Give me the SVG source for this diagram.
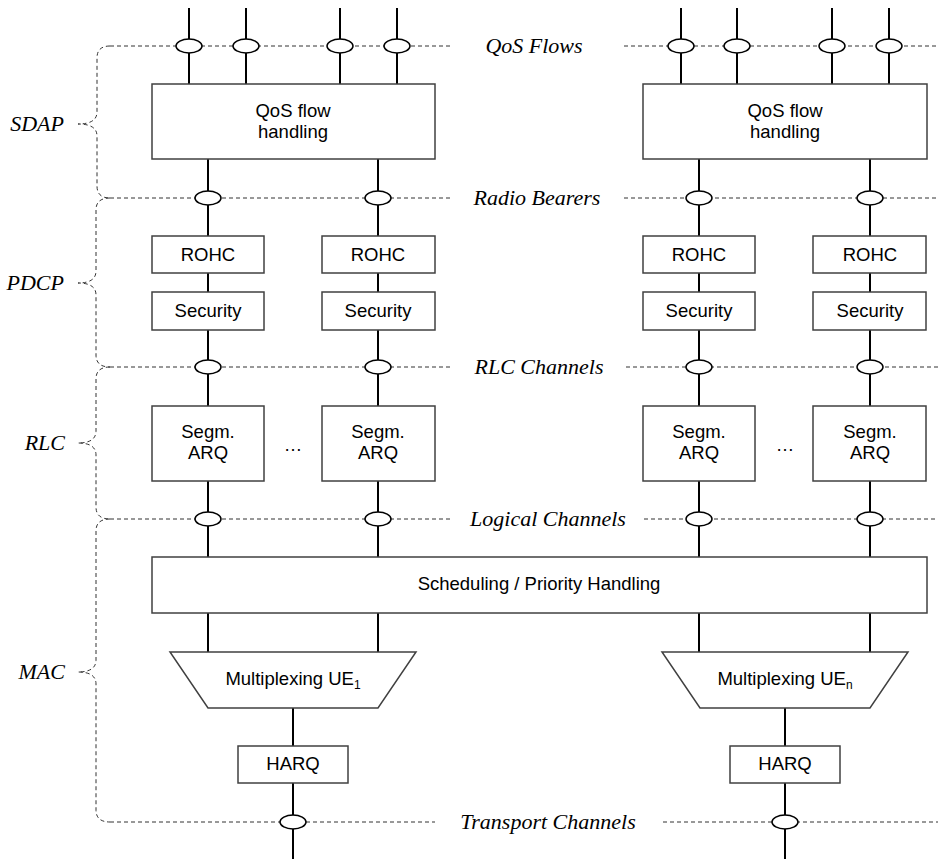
<svg xmlns="http://www.w3.org/2000/svg" width="938" height="859" viewBox="0 0 938 859">
<style>
.bg{fill:#fff}
.box{fill:#fff;stroke:#404040;stroke-width:1.5}
.v{stroke:#000;stroke-width:2;fill:none}
.d{stroke:#333;stroke-width:1;stroke-dasharray:4,3;fill:none}
.el{fill:#fff;stroke:#000;stroke-width:1.5}
.t{font-family:"Liberation Sans",Arial,sans-serif;font-size:18.5px;fill:#000;text-anchor:middle}
.lab{font-family:"Liberation Serif","Times New Roman",serif;font-style:italic;font-size:22px;fill:#000;text-anchor:middle}
.ll{font-family:"Liberation Serif","Times New Roman",serif;font-style:italic;font-size:22px;fill:#000;text-anchor:end}
</style>
<rect class="bg" x="0" y="0" width="938" height="859"/>
<g id="connectors">
  <path class="d" d="M110,46H453M624,46H938"/>
  <path class="d" d="M110,198H453M624,198H938"/>
  <path class="d" d="M110,367H453M626,367H938"/>
  <path class="d" d="M110,519H453M644,519H938"/>
  <path class="d" d="M110,822H435M663,822H938"/>
  <path class="d" d="M110,46Q97,46 97,58L97,112Q97,124 78,124Q97,124 97,136L97,186Q97,198 110,198"/>
  <path class="d" d="M110,198Q96,198 96,210L96,271Q96,283 78,283Q96,283 96,295L96,355Q96,367 110,367"/>
  <path class="d" d="M110,367Q96,367 96,379L96,431Q96,443 78,443Q96,443 96,455L96,507Q96,519 110,519"/>
  <path class="d" d="M110,519Q96,519 96,531L96,660Q96,672 78,672Q96,672 96,684L96,810Q96,822 110,822"/>
  <path class="v" d="M189,8V84M246,8V84M340,8V84M397,8V84"/>
  <path class="v" d="M681,8V84M737,8V84M832,8V84M889,8V84"/>
  <path class="v" d="M208,159V236M208,273V292M208,330V406M208,481V557M208,613V652"/>
  <path class="v" d="M378,159V236M378,273V292M378,330V406M378,481V557M378,613V652"/>
  <path class="v" d="M699,159V236M699,273V292M699,330V406M699,481V557M699,613V652"/>
  <path class="v" d="M870,159V236M870,273V292M870,330V406M870,481V557M870,613V652"/>
  <path class="v" d="M293,708V746M293,783V859"/>
  <path class="v" d="M785,708V746M785,783V859"/>
  <g>
    <ellipse class="el" cx="189" cy="46" rx="13" ry="7"/>
    <ellipse class="el" cx="246" cy="46" rx="13" ry="7"/>
    <ellipse class="el" cx="340" cy="46" rx="13" ry="7"/>
    <ellipse class="el" cx="397" cy="46" rx="13" ry="7"/>
    <ellipse class="el" cx="681" cy="46" rx="13" ry="7"/>
    <ellipse class="el" cx="737" cy="46" rx="13" ry="7"/>
    <ellipse class="el" cx="832" cy="46" rx="13" ry="7"/>
    <ellipse class="el" cx="889" cy="46" rx="13" ry="7"/>
    <ellipse class="el" cx="208" cy="198" rx="13" ry="7"/>
    <ellipse class="el" cx="378" cy="198" rx="13" ry="7"/>
    <ellipse class="el" cx="699" cy="198" rx="13" ry="7"/>
    <ellipse class="el" cx="870" cy="198" rx="13" ry="7"/>
    <ellipse class="el" cx="208" cy="367" rx="13" ry="7"/>
    <ellipse class="el" cx="378" cy="367" rx="13" ry="7"/>
    <ellipse class="el" cx="699" cy="367" rx="13" ry="7"/>
    <ellipse class="el" cx="870" cy="367" rx="13" ry="7"/>
    <ellipse class="el" cx="208" cy="519" rx="13" ry="7"/>
    <ellipse class="el" cx="378" cy="519" rx="13" ry="7"/>
    <ellipse class="el" cx="699" cy="519" rx="13" ry="7"/>
    <ellipse class="el" cx="870" cy="519" rx="13" ry="7"/>
    <ellipse class="el" cx="293" cy="822" rx="13" ry="7"/>
    <ellipse class="el" cx="785" cy="822" rx="13" ry="7"/>
  </g>
</g>
<g id="labels">
  <text class="lab" x="534" y="53">QoS Flows</text>
  <text class="lab" x="537" y="205">Radio Bearers</text>
  <text class="lab" x="539" y="374">RLC Channels</text>
  <text class="lab" x="548" y="526">Logical Channels</text>
  <text class="lab" x="548" y="829">Transport Channels</text>
  <text class="ll" x="64" y="131">SDAP</text>
  <text class="ll" x="64" y="290">PDCP</text>
  <text class="ll" x="65" y="450">RLC</text>
  <text class="ll" x="65" y="679">MAC</text>
</g>
<g id="qos1"><rect class="box" x="152" y="84" width="283" height="75"/><text class="t" x="293" y="117">QoS flow</text><text class="t" x="293" y="138">handling</text></g>
<g id="qos2"><rect class="box" x="643" y="84" width="284" height="75"/><text class="t" x="785" y="117">QoS flow</text><text class="t" x="785" y="138">handling</text></g>
<g id="rohc1"><rect class="box" x="152" y="236" width="112" height="37"/><text class="t" x="208" y="261">ROHC</text></g>
<g id="rohc2"><rect class="box" x="322" y="236" width="113" height="37"/><text class="t" x="378" y="261">ROHC</text></g>
<g id="rohc3"><rect class="box" x="643" y="236" width="112" height="37"/><text class="t" x="699" y="261">ROHC</text></g>
<g id="rohc4"><rect class="box" x="813" y="236" width="113" height="37"/><text class="t" x="870" y="261">ROHC</text></g>
<g id="sec1"><rect class="box" x="152" y="292" width="112" height="38"/><text class="t" x="208" y="317">Security</text></g>
<g id="sec2"><rect class="box" x="322" y="292" width="113" height="38"/><text class="t" x="378" y="317">Security</text></g>
<g id="sec3"><rect class="box" x="643" y="292" width="112" height="38"/><text class="t" x="699" y="317">Security</text></g>
<g id="sec4"><rect class="box" x="813" y="292" width="113" height="38"/><text class="t" x="870" y="317">Security</text></g>
<g id="rlc1"><rect class="box" x="152" y="406" width="112" height="75"/><text class="t" x="208" y="438">Segm.</text><text class="t" x="208" y="459">ARQ</text></g>
<g id="rlc2"><rect class="box" x="322" y="406" width="113" height="75"/><text class="t" x="378" y="438">Segm.</text><text class="t" x="378" y="459">ARQ</text></g>
<g id="rlc3"><rect class="box" x="643" y="406" width="112" height="75"/><text class="t" x="699" y="438">Segm.</text><text class="t" x="699" y="459">ARQ</text></g>
<g id="rlc4"><rect class="box" x="813" y="406" width="113" height="75"/><text class="t" x="870" y="438">Segm.</text><text class="t" x="870" y="459">ARQ</text></g>
<g id="dots1"><text class="t" x="293" y="451">…</text></g>
<g id="dots2"><text class="t" x="785" y="451">…</text></g>
<g id="sched"><rect class="box" x="152" y="557" width="775" height="56"/><text class="t" x="539" y="590">Scheduling / Priority Handling</text></g>
<g id="mux1"><path class="box" d="M170,652H416L378,708H208Z"/><text class="t" x="293" y="685">Multiplexing UE<tspan font-size="12" dy="4">1</tspan></text></g>
<g id="mux2"><path class="box" d="M662,652H908L870,708H700Z"/><text class="t" x="785" y="685">Multiplexing UE<tspan font-size="12" dy="4">n</tspan></text></g>
<g id="harq1"><rect class="box" x="238" y="746" width="110" height="37"/><text class="t" x="293" y="770">HARQ</text></g>
<g id="harq2"><rect class="box" x="730" y="746" width="110" height="37"/><text class="t" x="785" y="770">HARQ</text></g>
</svg>
